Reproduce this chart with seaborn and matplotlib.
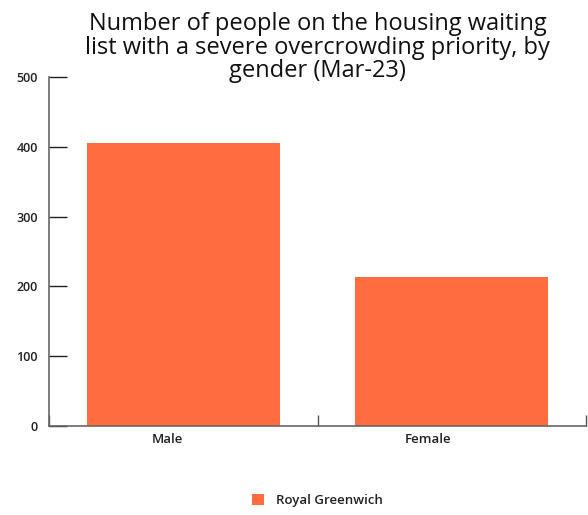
import pandas as pd
import matplotlib
matplotlib.use("Agg")
import matplotlib.pyplot as plt
import seaborn as sns

genders = ["Male", "Female"]
counts = [406, 213]
area = "Royal Greenwich"
bar_color = "#FF6C40"

sns.set_style("white")
plt.rcParams["font.family"] = ["Open Sans", "DejaVu Sans"]

df = pd.DataFrame({"gender": genders, "count": counts, "area": area})

fig = plt.figure(figsize=(5.88, 5.15), dpi=100)
ax = fig.add_axes([49 / 588, 1 - 426 / 515, (586 - 49) / 588, (426 - 77) / 515])
sns.barplot(data=df, x="gender", y="count", hue="area", palette=[bar_color],
            width=0.72, ax=ax, saturation=1, linewidth=0)

ax.set_ylim(0, 500)
ax.set_xlim(-0.5, 1.5)
ax.set_yticks([0, 100, 200, 300, 400, 500])
ax.tick_params(axis="y", left=True, direction="in", length=13, width=1, color="#222222",
               labelsize=9, pad=8)
ax.tick_params(axis="x", which="major", bottom=True, length=0, labelsize=9.5, pad=5)
ax.set_xticks([-0.5, 0.5, 1.5], minor=True)
ax.tick_params(axis="x", which="minor", bottom=True, direction="in", length=8,
               width=1, color="#555555")
for lbl in ax.get_xticklabels():
    lbl.set_horizontalalignment("right")
for lbl in ax.get_xticklabels() + ax.get_yticklabels():
    lbl.set_fontweight("semibold")
    lbl.set_color("#222222")

sns.despine(ax=ax, top=True, right=True)
for s in ["left", "bottom"]:
    ax.spines[s].set_color("#666666")
    ax.spines[s].set_linewidth(1.2)
ax.set_xlabel("")
ax.set_ylabel("")

ax.set_title("Number of people on the housing waiting\nlist with a severe overcrowding priority, by\ngender (Mar-23)",
             fontsize=17, color="#111111", y=1.0, pad=0, linespacing=0.96)

leg = ax.legend(loc="upper center", bbox_to_anchor=(0.5, -0.16), frameon=False,
                handlelength=0.9, handleheight=0.9, handletextpad=0.9, fontsize=9.5)
for t in leg.get_texts():
    t.set_fontweight("semibold")
    t.set_color("#222222")

fig.savefig("out.png", dpi=100)
